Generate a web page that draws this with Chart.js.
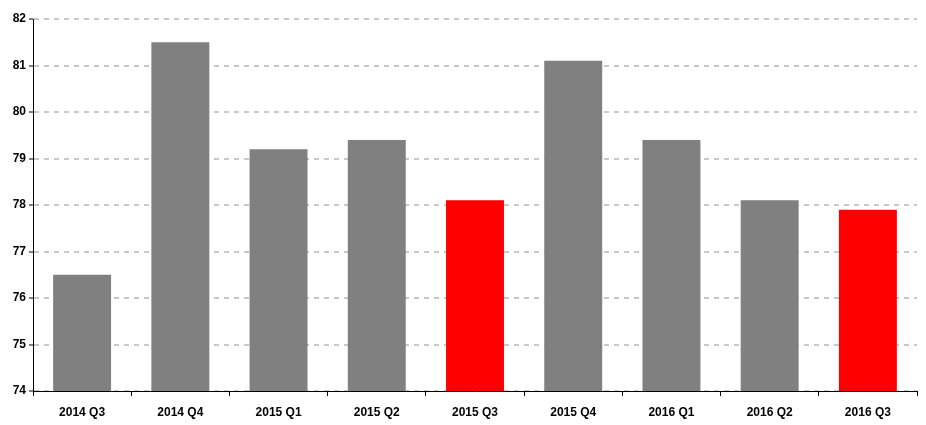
<!DOCTYPE html>
<html>
<head>
<meta charset="utf-8">
<script src="https://cdn.jsdelivr.net/npm/chart.js@4"></script>
<style>
  html, body { margin: 0; padding: 0; background: #fff; }
  #wrap { width: 926px; height: 425px; }
</style>
</head>
<body>
<div id="wrap"><canvas id="chartCanvas" width="926" height="425"></canvas></div>
<script>
const labels = ['2014 Q3', '2014 Q4', '2015 Q1', '2015 Q2', '2015 Q3', '2015 Q4', '2016 Q1', '2016 Q2', '2016 Q3'];
const values = [76.5, 81.5, 79.2, 79.4, 78.1, 81.1, 79.4, 78.1, 77.9];
const highlighted = ['2015 Q3', '2016 Q3'];

const barColors = labels.map(l => highlighted.includes(l) ? '#ff0000' : '#808080');

const font = { family: '"Liberation Sans", Arial, sans-serif', size: 12, weight: 'bold' };

new Chart(document.getElementById('chartCanvas').getContext('2d'), {
  type: 'bar',
  data: {
    labels,
    datasets: [{
      data: values,
      backgroundColor: barColors,
      borderWidth: 0,
      barPercentage: 0.59,
      categoryPercentage: 1,
    }],
  },
  options: {
    responsive: false,
    animation: false,
    layout: { padding: { top: 19, right: 9, left: 0, bottom: 0 } },
    plugins: {
      legend: { display: false },
      tooltip: { enabled: false },
    },
    scales: {
      x: {
        afterFit: s => { s.height = 34; },
        grid: {
          offset: true,
          drawOnChartArea: false,
          tickLength: 5,
          tickColor: '#000',
        },
        border: { color: '#000', width: 1 },
        ticks: { color: '#000', font, padding: 9, maxRotation: 0 },
      },
      y: {
        min: 74,
        max: 82,
        afterFit: s => { s.width = 33; },
        grid: {
          color: '#c8c8c8',
          lineWidth: 2,
          tickLength: 4,
          tickColor: '#000',
          tickWidth: 1,
        },
        border: { color: '#000', width: 1, dash: [5, 5] },
        ticks: { color: '#000', font, stepSize: 1, padding: 3 },
      },
    },
  },
});
</script>
</body>
</html>
